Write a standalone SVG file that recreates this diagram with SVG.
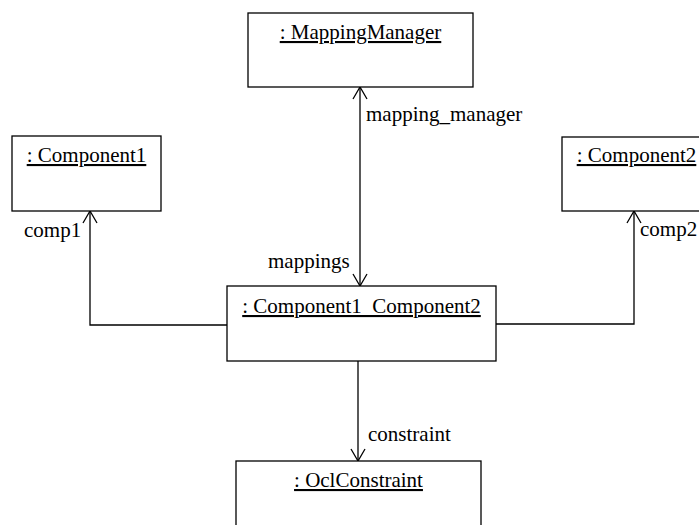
<svg xmlns="http://www.w3.org/2000/svg" width="699" height="525" viewBox="0 0 699 525">
<style>
.box{fill:#fff;stroke:#000;stroke-width:1.3}
.ln{fill:none;stroke:#000;stroke-width:1.3}
.t{font-family:"Liberation Serif","Tinos","Times New Roman","DejaVu Serif",serif;font-size:21px;fill:#000}
.c{text-anchor:middle;text-decoration:underline}
</style>
<defs>
<marker id="open" viewBox="0 0 14 16" refX="13" refY="8" markerWidth="14" markerHeight="16" markerUnits="userSpaceOnUse" orient="auto-start-reverse">
<path d="M1,1 L13,8 L1,15" fill="none" stroke="#000" stroke-width="1.3"/>
</marker>
</defs>
<rect width="699" height="525" fill="#fff"/>
<g id="connectors">
<line class="ln" x1="360" y1="286" x2="360" y2="87" marker-start="url(#open)" marker-end="url(#open)"/>
<polyline class="ln" points="227,325 90,325 90,211" marker-end="url(#open)"/>
<polyline class="ln" points="496,324 634,324 634,211" marker-end="url(#open)"/>
<line class="ln" x1="358" y1="361" x2="358" y2="461" marker-end="url(#open)"/>
<text class="t" x="366" y="121" font-family="Liberation Serif, serif">mapping_manager</text>
<text class="t" x="268" y="268">mappings</text>
<text class="t" x="24" y="237">comp1</text>
<text class="t" x="640" y="236">comp2</text>
<text class="t" x="368" y="441">constraint</text>
</g>
<g id="MappingManager">
<rect class="box" x="248" y="13" width="225" height="74"/>
<text class="t c" x="360.5" y="39">: MappingManager</text>
</g>
<g id="Component1">
<rect class="box" x="12" y="136" width="149" height="75"/>
<text class="t c" x="86.5" y="162">: Component1</text>
</g>
<g id="Component2">
<rect class="box" x="562" y="137" width="149" height="74"/>
<text class="t c" x="636.5" y="162">: Component2</text>
</g>
<g id="Component1_Component2">
<rect class="box" x="227" y="286" width="269" height="75"/>
<text class="t c" x="361.5" y="313">: Component1_Component2</text>
</g>
<g id="OclConstraint">
<rect class="box" x="236" y="461" width="245" height="80"/>
<text class="t c" x="358.5" y="487">: OclConstraint</text>
</g>
</svg>
